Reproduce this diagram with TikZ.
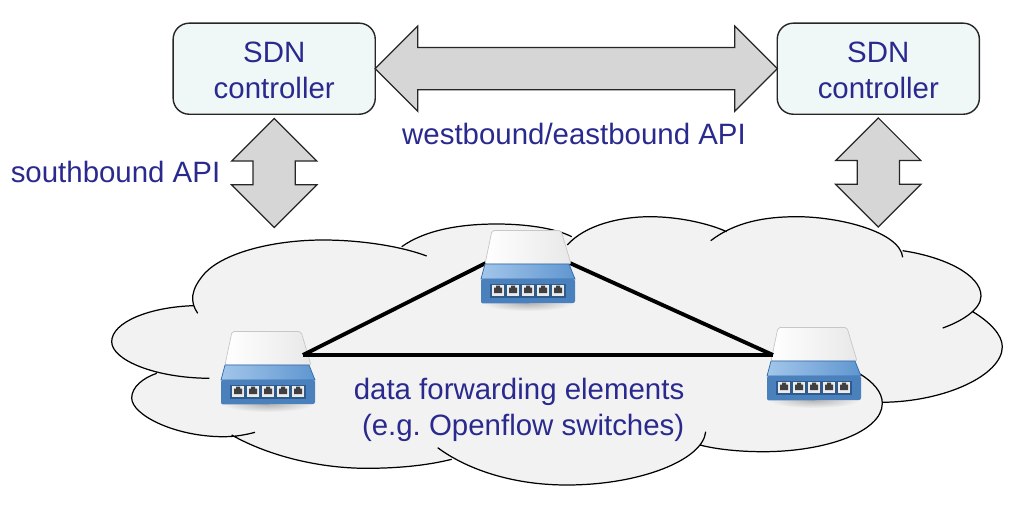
\documentclass[tikz,border=0pt]{standalone}
\usepackage{fontspec}
\setmainfont{Liberation Sans}
\usetikzlibrary{positioning,calc,shapes.arrows}

\definecolor{sdnblue}{HTML}{2A2A8E}
\definecolor{boxfill}{HTML}{EFF8F7}
\definecolor{cloudfill}{HTML}{F2F2F2}
\definecolor{arrowfill}{HTML}{D6D6D6}
\definecolor{swedge}{HTML}{2F6AAE}
\definecolor{swlight}{HTML}{A3C6EA}
\definecolor{swmid}{HTML}{5F96D0}
\definecolor{swfront}{HTML}{4A80BC}
\definecolor{swdark}{HTML}{2E5B8E}

\tikzset{
	apitext/.style = {text = sdnblue, font = \fontsize{8.37pt}{10.1pt}\selectfont, inner sep = 0pt},
	ctrlbox/.style = {apitext, draw = black!85, fill = boxfill, line width = 0.4pt, rounded corners = 0.16cm, minimum width = 2.02cm, minimum height = 0.91cm, align = center, text height = 16.95pt},
	apiarrow/.style = {shape = double arrow, draw = black!85, fill = arrowfill, line width = 0.35pt, inner xsep = 0pt, inner ysep = 0.205cm, outer sep = 0pt, double arrow head extend = 0.215cm},
	link/.style = {line width = 1.1pt, black},
	switchpic/.pic = {
		\shade[inner color = black!30, outer color = cloudfill] (0,36) ellipse [x radius = 0.46cm, y radius = 0.08cm];
		\shade[left color = white, right color = black!9, draw = black!22, line width = 0.2pt, rounded corners = 0.02cm] (-36,-36.5) -- (33,-36.5) -- (43,-3) -- (-43,-3) -- cycle;
		\shade[left color = swlight, right color = swmid, draw = swedge, line width = 0.2pt] (-43,-3) -- (41,-3) -- (47,12) -- (-47,12) -- cycle;
		\fill[swfront, rounded corners = 0.02cm] (-47,12) -- (47,12) -- (47,36) -- (-47,36.5) -- cycle;
		\fill[swdark] (-38,17) rectangle (38,30.5);
		\foreach \portx in {-30,-15,0,15,30} {
			\fill[black!8] (\portx-6,17.5) rectangle (\portx+6,29);
			\fill[black!75] (\portx-4,20.5) -- (\portx-2,20.5) -- (\portx-2,18.5) -- (\portx+2,18.5) -- (\portx+2,20.5) -- (\portx+4,20.5) -- (\portx+4,26) -- (\portx-4,26) -- cycle;
		}
		\coordinate (-nw) at (-41,-9);
		\coordinate (-ne) at (35,-13);
		\coordinate (-top) at (-2.4,-24);
	}
}

% cloud is made of open lobes, the fill closes each one
\newcommand{\cloudlobes}{
	(197.7,313.3) .. controls (190,302) and (190,290) .. (205,273) .. controls (225,252) and (275,240) .. (323,240) .. controls (360,240) and (400,246) .. (426.7,256)
	(401.7,246.7) .. controls (425,230) and (460,224) .. (496.7,224) .. controls (525,224) and (555,228) .. (571.7,236.7)
	(567.3,245) .. controls (585,225) and (620,216.7) .. (650,216.7) .. controls (680,216.7) and (710,224) .. (726.7,231.7)
	(710.7,240.7) .. controls (735,222) and (765,216.7) .. (796.7,216.7) .. controls (840,216.7) and (900,232) .. (902.7,257.3)
	(902.7,250.7) .. controls (945,257) and (981,275) .. (981,296) .. controls (981,310) and (960,322) .. (942.7,328)
	(972.7,311.7) .. controls (990,322) and (1002.3,335) .. (1002.3,346.7) .. controls (1002.3,375) and (945,402) .. (881.7,402.3)
	(860,374) .. controls (873,382) and (882.3,392) .. (882.3,403.3) .. controls (882.3,432) and (825,451.7) .. (763.3,451.7) .. controls (738,451.7) and (715,449) .. (700,445)
	(705.7,431.7) .. controls (703,460) and (640,485) .. (566.7,485) .. controls (510,485) and (465,468) .. (437.7,447.7)
	(451.7,459.3) .. controls (425,466) and (395,468.3) .. (366.7,468.3) .. controls (315,468.3) and (265,454) .. (231.7,435)
	(255,432.3) .. controls (245,435) and (235,436.7) .. (223.3,436.7) .. controls (175,436.7) and (131.7,415) .. (131.7,398) .. controls (131.7,387) and (143,378) .. (156.7,373.3)
	(209.3,378.3) .. controls (155,378) and (111.7,360) .. (111.7,341.7) .. controls (111.7,322) and (150,307) .. (193.3,305.7)
}

\begin{document}
\begin{tikzpicture}[x=0.01cm, y=-0.01cm]
	\useasboundingbox (0,0) rectangle (1027,512);

	% cloud
	\fill[cloudfill] \cloudlobes (193,306) -- (320,250) -- (403,247) -- (490,232) -- (570,238) -- (650,225) -- (722,231) -- (800,225) -- (902,251) -- (950,280) -- (972,312) -- (985,355) -- (882,402) -- (790,445) -- (698,446) -- (575,478) -- (451,458) -- (350,460) -- (235,436) -- (150,405) -- (157,375) -- (125,340) -- cycle;
	\draw[line width = 0.35pt] \cloudlobes;

	% switches and links
	\pic (swA) at (268,368) {switchpic};
	\pic (swC) at (814,364) {switchpic};
	\draw[link] (swA-ne) -- (swC-nw);
	\coordinate (swBtop) at (525.6,243);
	\draw[link] (swA-ne) -- (swBtop) -- (swC-nw);
	\pic (swB) at (528,267) {switchpic};

	% controllers
	\node[ctrlbox] (ctrlL) at (274.2,68.7) {SDN\\controller};
	\node[ctrlbox] (ctrlR) at (878.3,68.7) {SDN\\controller};

	% API arrows
	\node[apiarrow, minimum height = 4.02cm] (wearrow) at ($(ctrlL.east)!0.5!(ctrlR.west)$) {};
	\node[apiarrow, minimum height = 1.09cm, rotate = 90, below = 0.035cm of ctrlL, anchor = east] (sarrowL) {};
	\node[apiarrow, minimum height = 1.09cm, rotate = 90, below = 0.03cm of ctrlR, anchor = east] (sarrowR) {};

	\node[apitext, anchor = base] (welabel) at (574,144.3) {westbound/eastbound API};
	\node[apitext, anchor = base] (slabel) at (115.5,182.3) {southbound API};
	\node[apitext, anchor = base east, align = right] (datalabel) at (685,435) {data forwarding elements\\(e.g.\ Openflow switches)};
\end{tikzpicture}
\end{document}
